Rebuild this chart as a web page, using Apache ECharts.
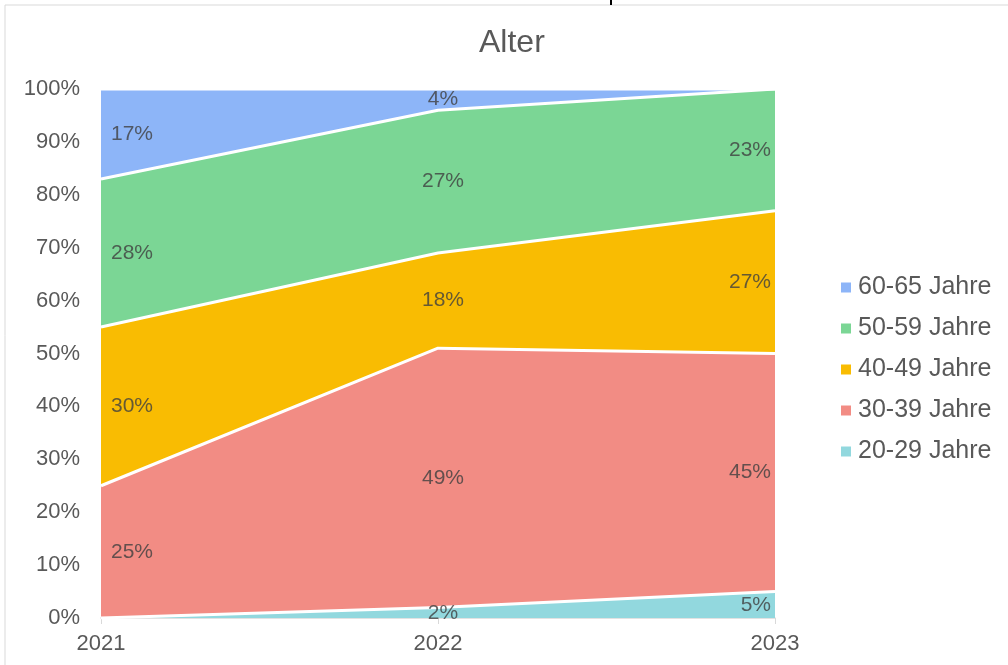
<!DOCTYPE html>
<html>
<head>
<meta charset="utf-8">
<script src="https://cdn.jsdelivr.net/npm/echarts@6/dist/echarts.min.js"></script>
<style>
  html, body { margin: 0; padding: 0; background: #fff; }
  #chart { width: 1008px; height: 665px; }
</style>
</head>
<body>
<div id="chart"></div>
<script>
const categories = ["2021", "2022", "2023"];
const seriesNames = ["20-29 Jahre", "30-39 Jahre", "40-49 Jahre", "50-59 Jahre", "60-65 Jahre"];
const age20 = [0, 2, 5];
const age30 = [25, 49, 45];
const age40 = [30, 18, 27];
const age50 = [28, 27, 23];
const age60 = [17, 4, 0];
const yTicks = [0, 10, 20, 30, 40, 50, 60, 70, 80, 90, 100];
const colors = ["#92D8DE", "#F28C84", "#F9BC02", "#7BD695", "#8DB5F8"];

const allValues = [age20, age30, age40, age50, age60];

// label points in the middle of each band
const labelData = [];
categories.forEach((c, j) => {
  let cum = 0;
  allValues.forEach((arr) => {
    const v = arr[j];
    if (v > 0) {
      let align = "center", off = [5, 0];
      if (j === 0) { align = "left"; off = [10, 0]; }
      if (j === categories.length - 1) { align = "right"; off = [-4, 0]; }
      labelData.push({
        value: [c, cum + v / 2, v],
        label: { align: align, offset: off }
      });
    }
    cum += v;
  });
});

const chart = echarts.init(document.getElementById("chart"));
chart.setOption({
  animation: false,
  textStyle: { fontFamily: "Liberation Sans, Arial, sans-serif" },
  title: {
    text: "Alter",
    left: 474,
    top: 22,
    textStyle: { fontSize: 32, fontWeight: "normal", color: "#595959" }
  },
  graphic: [
    {
      type: "rect",
      shape: { x: 5, y: 5, width: 1010, height: 670 },
      style: { fill: "none", stroke: "#d9d9d9", lineWidth: 1 },
      silent: true
    },
    {
      type: "rect",
      shape: { x: 610, y: 0, width: 2, height: 5 },
      style: { fill: "#000" },
      silent: true
    }
  ],
  legend: {
    orient: "vertical",
    left: 841,
    top: 275,
    padding: 0,
    icon: "rect",
    itemWidth: 10,
    itemHeight: 10,
    itemGap: 16,
    data: seriesNames.slice().reverse(),
    textStyle: { fontSize: 25, color: "#595959", padding: [0, 0, 0, 2] }
  },
  grid: { left: 101, right: 233, top: 89, bottom: 47 },
  xAxis: {
    type: "category",
    data: categories,
    boundaryGap: false,
    axisLine: { lineStyle: { color: "#d9d9d9", width: 1.5 } },
    axisTick: { length: 6, lineStyle: { color: "#d9d9d9" } },
    axisLabel: { fontSize: 22, color: "#595959", margin: 15 }
  },
  yAxis: {
    type: "value",
    min: yTicks[0],
    max: yTicks[yTicks.length - 1],
    interval: 10,
    splitLine: { show: false },
    axisLine: { show: false },
    axisTick: { show: false },
    axisLabel: { fontSize: 22, color: "#595959", margin: 21, formatter: "{value}%" }
  },
  series: allValues.map((arr, i) => ({
    name: seriesNames[i],
    type: "line",
    stack: "total",
    data: arr,
    symbol: "none",
    color: colors[i],
    lineStyle: { color: "#fff", width: 3 },
    areaStyle: { color: colors[i], opacity: 1 },
    z: 2
  })).concat([{
    type: "scatter",
    data: labelData,
    symbolSize: 0,
    silent: true,
    z: 5,
    label: {
      show: true,
      position: "inside",
      fontSize: 21,
      color: "#404040",
      formatter: (p) => p.value[2] + "%"
    }
  }])
});
</script>
</body>
</html>
